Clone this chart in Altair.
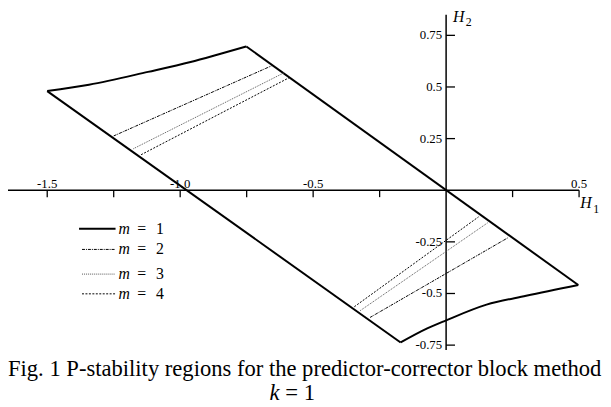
import altair as alt
import pandas as pd

# ---------------- data ----------------
# m = 1 boundary, split in its four sides (H1 / H2 coordinates)
m1_top_h1 = [-1.500, -1.343, -1.121, -0.961, -0.861, -0.751]
m1_top_h2 = [0.480, 0.511, 0.573, 0.621, 0.656, 0.696]
m1_right_h1 = [-0.751, 0.497]
m1_right_h2 = [0.696, -0.459]
m1_bottom_h1 = [-0.171, -0.071, 0.000, 0.152, 0.301, 0.497]
m1_bottom_h2 = [-0.737, -0.669, -0.630, -0.554, -0.511, -0.459]
m1_left_h1 = [-1.500, -0.171]
m1_left_h2 = [0.480, -0.737]

# chords for m = 2, 3, 4 (upper segment and lower segment)
m2_upper_h1 = [-1.250, -0.657]
m2_upper_h2 = [0.263, 0.602]
m2_lower_h1 = [-0.286, 0.234]
m2_lower_h2 = [-0.616, -0.229]

m3_upper_h1 = [-1.176, -0.609]
m3_upper_h2 = [0.201, 0.569]
m3_lower_h1 = [-0.323, 0.156]
m3_lower_h2 = [-0.583, -0.158]

m4_upper_h1 = [-1.147, -0.590]
m4_upper_h2 = [0.172, 0.545]
m4_lower_h1 = [-0.345, 0.122]
m4_lower_h2 = [-0.564, -0.129]

x_ticks = [-1.5, -1.25, -1.0, -0.75, -0.5, -0.25, 0.25, 0.5]
x_label_vals = [-1.5, -1.0, -0.5, 0.5]
x_label_text = ["-1.5", "-1.0", "-0.5", "0.5"]
y_ticks = [0.75, 0.5, 0.25, -0.25, -0.5, -0.75]
y_label_text = ["0.75", "0.5", "0.25", "-0.25", "-0.5", "-0.75"]
legend_m = ["1", "2", "3", "4"]
caption1 = "Fig. 1 P-stability regions for the predictor-corrector block method"
caption2_italic = "k"
caption2_rest = "= 1"

# ---------------- geometry ----------------
W, H = 603, 399
KX, KY = 269.5, 209.3
X0 = -(452 - 8) / KX
X1 = X0 + W / KX
Y1 = (190 - 8) / KY
Y0 = Y1 - H / KY

xs = alt.Scale(domain=[X0, X1], nice=False, zero=False)
ys = alt.Scale(domain=[Y0, Y1], nice=False, zero=False)
SERIF = "Liberation Serif"


def X(f):
    return alt.X(f, type="quantitative", scale=xs, axis=None)


def Y(f):
    return alt.Y(f, type="quantitative", scale=ys, axis=None)


def XD(v):
    return alt.XDatum(v, type="quantitative", scale=xs, axis=None)


def YD(v):
    return alt.YDatum(v, type="quantitative", scale=ys, axis=None)


def line_layer(h1, h2, **mark):
    df = pd.DataFrame({"h1": h1, "h2": h2, "i": list(range(len(h1)))})
    return alt.Chart(df).mark_line(**mark).encode(x=X("h1"), y=Y("h2"), order="i:Q")


layers = []

# axes lines
layers.append(alt.Chart(pd.DataFrame({"a": [0]})).mark_rule(color="black", strokeWidth=1.5).encode(
    x=XD(X0), x2=alt.X2Datum(0.5), y=YD(0)))
layers.append(alt.Chart(pd.DataFrame({"a": [0]})).mark_rule(color="black", strokeWidth=1.5).encode(
    x=XD(0), y=YD(0.85), y2=alt.Y2Datum(-0.774)))

# ticks
layers.append(alt.Chart(pd.DataFrame({"h1": x_ticks})).mark_rule(color="black", strokeWidth=1.3, y2Offset=7).encode(
    x=X("h1"), y=YD(0), y2=alt.Y2Datum(0)))
layers.append(alt.Chart(pd.DataFrame({"h2": y_ticks})).mark_rule(color="black", strokeWidth=1.3, x2Offset=9).encode(
    y=Y("h2"), x=XD(0), x2=alt.X2Datum(0)))

# tick labels
layers.append(alt.Chart(pd.DataFrame({"h1": x_label_vals, "t": x_label_text})).mark_text(
    font=SERIF, fontSize=13, align="center", baseline="alphabetic", dy=-2, color="black").encode(
    x=X("h1"), y=YD(0), text="t:N"))
layers.append(alt.Chart(pd.DataFrame({"h2": y_ticks, "t": y_label_text})).mark_text(
    font=SERIF, fontSize=13, align="right", baseline="middle", dx=-4, color="black").encode(
    x=XD(0), y=Y("h2"), text="t:N"))

# region boundaries
solid = dict(color="black", strokeWidth=2)
layers.append(line_layer(m1_top_h1, m1_top_h2, interpolate="monotone", **solid))
layers.append(line_layer(m1_right_h1, m1_right_h2, **solid))
layers.append(line_layer(m1_bottom_h1, m1_bottom_h2, interpolate="monotone", **solid))
layers.append(line_layer(m1_left_h1, m1_left_h2, **solid))
styles = {
    "2": dict(color="black", strokeWidth=1, strokeDash=[3, 1, 1, 1]),
    "3": dict(color="#555555", strokeWidth=1, strokeDash=[1, 1]),
    "4": dict(color="black", strokeWidth=1, strokeDash=[2, 1.5]),
}
layers.append(line_layer(m2_upper_h1, m2_upper_h2, **styles["2"]))
layers.append(line_layer(m2_lower_h1, m2_lower_h2, **styles["2"]))
layers.append(line_layer(m3_upper_h1, m3_upper_h2, **styles["3"]))
layers.append(line_layer(m3_lower_h1, m3_lower_h2, **styles["3"]))
layers.append(line_layer(m4_upper_h1, m4_upper_h2, **styles["4"]))
layers.append(line_layer(m4_lower_h1, m4_lower_h2, **styles["4"]))

# axis titles
one = pd.DataFrame({"a": [0]})


def txt(s, px, py, size, italic=False, align="left"):
    kw = dict(font=SERIF, fontSize=size, align=align, baseline="alphabetic", color="black")
    if italic:
        kw["fontStyle"] = "italic"
    return alt.Chart(one).mark_text(text=s, **kw).encode(x=alt.value(px - 8), y=alt.value(py - 8))


layers.append(txt("H", 459, 20, 16, italic=True))
layers.append(txt("2", 472, 24, 12))
layers.append(txt("H", 588, 208, 16, italic=True))
layers.append(txt("1", 601, 213, 12))

# legend
leg_y = [229, 250, 275, 295]
leg_x0 = [80, 83, 83, 83]
for k, m in enumerate(legend_m):
    st = solid if m == "1" else styles[m]
    layers.append(alt.Chart(one).mark_rule(**st).encode(
        x=alt.value(leg_x0[k] - 8), x2=alt.value(117 - 8), y=alt.value(leg_y[k] - 8)))
    layers.append(txt("m", 120, leg_y[k] + 5, 16, italic=True))
    layers.append(txt("=", 139, leg_y[k] + 5, 16))
    layers.append(txt(m, 158, leg_y[k] + 5, 16))

# caption
layers.append(txt(caption1, 8, 378, 22.9))
layers.append(txt(caption2_italic, 273, 403, 23, italic=True))
layers.append(txt(caption2_rest, 289, 403, 23))

chart = alt.layer(*layers).properties(
    width=W, height=H,
    autosize=alt.AutoSizeParams(type="none"),
    padding=0,
).configure_view(stroke=None)

chart.save("out.html", embed_options={"renderer": "svg", "actions": False})
